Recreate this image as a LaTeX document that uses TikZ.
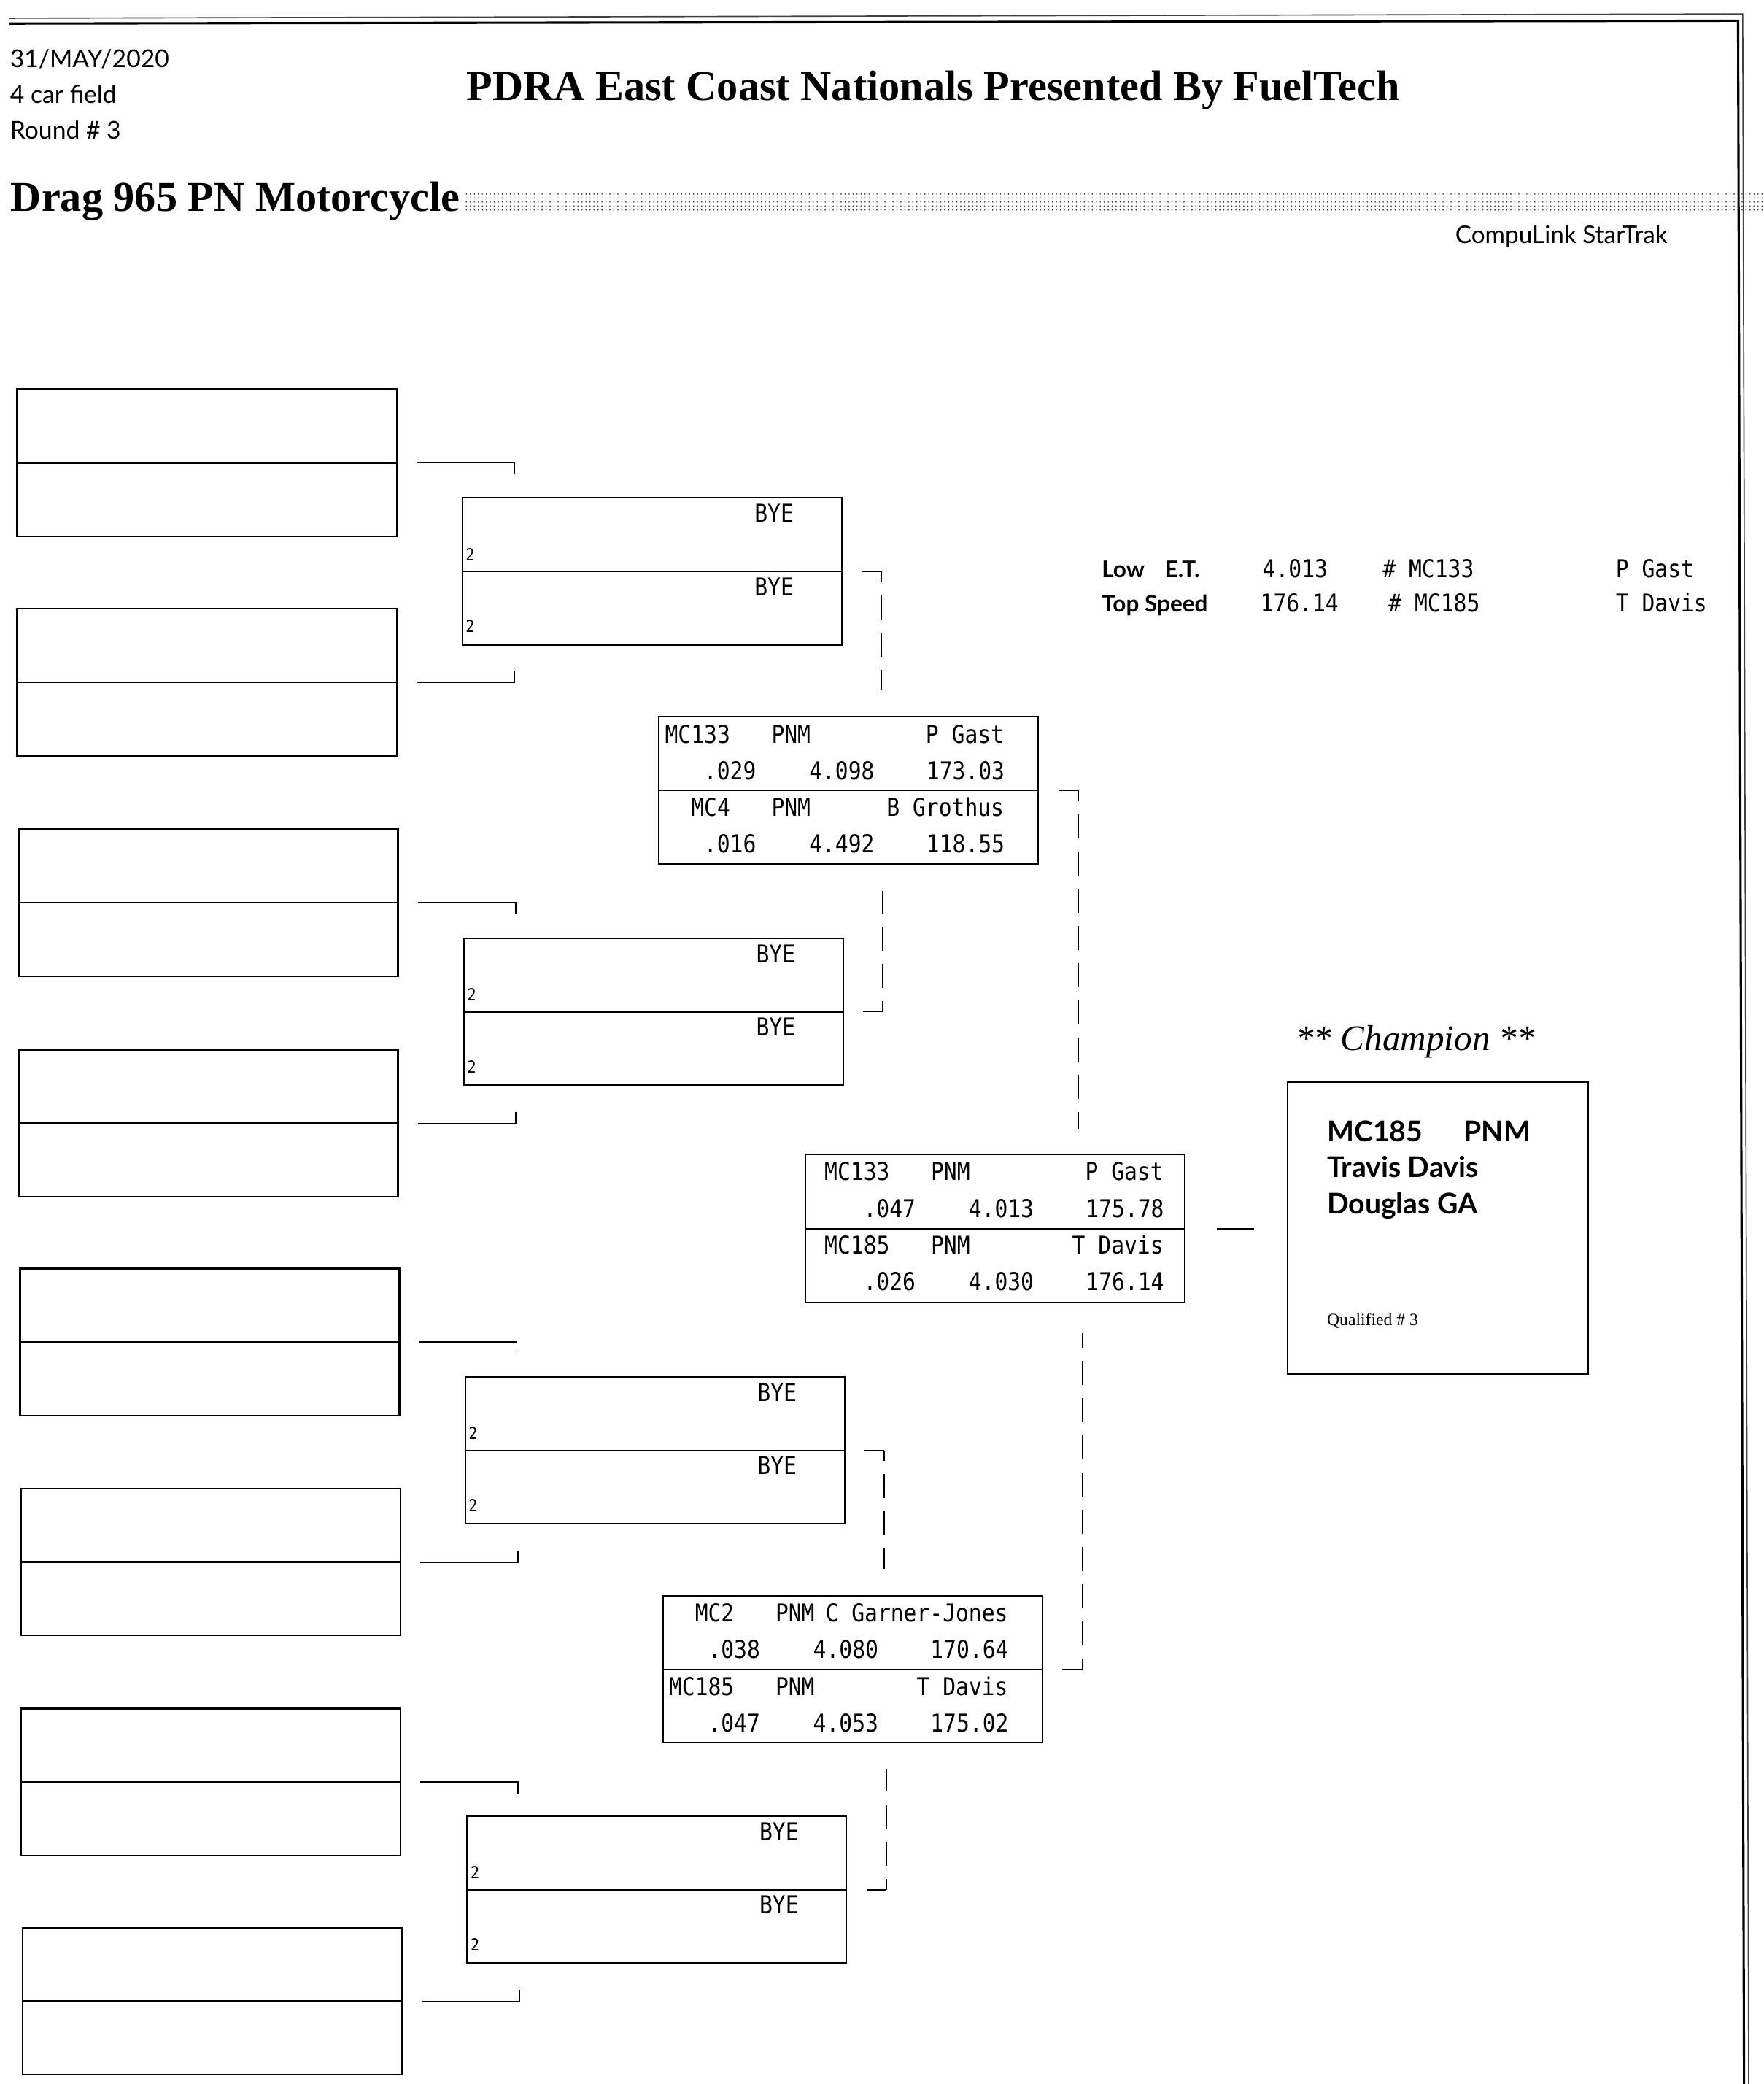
\documentclass[tikz,border=0pt]{standalone}
\usepackage{fontspec}
\setmainfont{Liberation Serif}
\newfontfamily\dfont[FakeStretch=0.88]{DejaVu Sans Mono}
\newfontfamily\hfont{Lato}
\usetikzlibrary{patterns}
\tikzset{
  r1box/.style={draw, line width=1.3pt, minimum width=285.5pt, minimum height=110.5pt, inner sep=0pt, outer sep=0pt, anchor=north west},
  rbox/.style={draw, line width=1.1pt, minimum width=285.5pt, minimum height=110.5pt, inner sep=0pt, outer sep=0pt, anchor=north west},
  midline/.style={line width=1.1pt},
  conn/.style={line width=1pt},
  dconn/.style={line width=1pt, dash pattern=on 18pt off 10pt, dash phase=10pt},
  dat/.style={font=\dfont\fontsize{18.5}{20}\selectfont, inner sep=0pt, outer sep=0pt},
  seed/.style={font=\dfont\fontsize{12.5}{13}\selectfont, inner sep=0pt, anchor=base west},
  hum/.style={font=\hfont\fontsize{18.5}{20}\selectfont, inner sep=0pt, anchor=base west},
  humb/.style={font=\hfont\bfseries\fontsize{17.3}{20}\selectfont, inner sep=0pt, anchor=base west},
  ser/.style={inner sep=0pt, anchor=base west},
}
\newcommand\racer[9]{%
  \pgfmathsetmacro\rowA{19.7+55*#3}%
  \pgfmathsetmacro\rowB{47.2+55*#3}%
  \node[dat,anchor=base east] (#1-car#3) at ([xshift={(53.5+#2)*1pt},yshift={-\rowA*1pt}]#1.north west) {#4};
  \node[dat,anchor=base west] (#1-cls#3) at ([xshift={(84.6+#2)*1pt},yshift={-\rowA*1pt}]#1.north west) {#5};
  \node[dat,anchor=base east] (#1-name#3) at ([xshift={(259.5+#2)*1pt},yshift={-\rowA*1pt}]#1.north west) {#6};
  \node[dat,anchor=base east] (#1-rt#3) at ([xshift={(73+#2)*1pt},yshift={-\rowB*1pt}]#1.north west) {#7};
  \node[dat,anchor=base east] (#1-et#3) at ([xshift={(162+#2)*1pt},yshift={-\rowB*1pt}]#1.north west) {#8};
  \node[dat,anchor=base east] (#1-sp#3) at ([xshift={(260+#2)*1pt},yshift={-\rowB*1pt}]#1.north west) {#9};
}
\newcommand\byebox[1]{%
  \node[dat,anchor=base east] (#1-bye1) at ([xshift=249.5pt,yshift=-18.4pt]#1.north west) {BYE};
  \node[dat,anchor=base east] (#1-bye2) at ([xshift=249.5pt,yshift=-73.4pt]#1.north west) {BYE};
  \node[seed] (#1-s1) at ([xshift=2.5pt,yshift=-47.2pt]#1.north west) {2};
  \node[seed] (#1-s2) at ([xshift=2.5pt,yshift=-101.2pt]#1.north west) {2};
}
\begin{document}
\begin{tikzpicture}[x=1pt,y=-1pt]
\fill[white] (0,0) rectangle (1327,1568);
\useasboundingbox (0,0) rectangle (1327,1568);

% page frame
\draw[line width=0.9pt, black!75] (7,13.7) -- (1311.5,10.5) -- (1316,1568);
\draw[line width=1.7pt] (7,17.7) -- (1308,15.6) -- (1312.5,1568);

% header
\node[hum] (date) at (7.4,51) {31/MAY/2020};
\node[hum] (field) at (7.4,77.5) {4 car field};
\node[hum] (round) at (7.4,104.5) {Round \# 3};
\node[ser, font=\bfseries\fontsize{32}{34}\selectfont] (title) at (351,75.4) {PDRA East Coast Nationals Presented By FuelTech};
\node[ser, font=\bfseries\fontsize{32}{34}\selectfont] (cls) at (8,159.2) {Drag 965 PN Motorcycle};
\fill[pattern=dots, pattern color=black!80] (350,145) rectangle (1327,160);
\node[hum, font=\hfont\fontsize{18.3}{20}\selectfont] (brand) at (1095,183) {CompuLink StarTrak};

% stats
\node[humb] (lowl) at (829,434.6) {Low};
\node[humb] (lowl2) at (876.5,434.6) {E.T.};
\node[dat, anchor=base west] (lowet) at (950.2,434.6) {4.013};
\node[dat, anchor=base west] (lowcar) at (1040.6,434.6) {\# MC133};
\node[dat, anchor=base west] (lowname) at (1216,434.6) {P Gast};
\node[humb] (topl) at (829,460.3) {Top Speed};
\node[dat, anchor=base west] (topsp) at (948.5,460.3) {176.14};
\node[dat, anchor=base west] (topcar) at (1045,460.3) {\# MC185};
\node[dat, anchor=base west] (topname) at (1216,460.3) {T Davis};

% round 1 (empty)
\node[r1box] (a1) at (13,293) {};
\node[r1box] (a2) at (13,458) {};
\node[r1box] (a3) at (14,624) {};
\node[r1box] (a4) at (14,790) {};
\node[r1box] (a5) at (15,954.5) {};
\node[r1box] (a6) at (16,1120) {};
\node[r1box] (a7) at (16,1285.5) {};
\node[r1box] (a8) at (17,1450.5) {};
\foreach \b in {a1,a2,a3,a4,a5,a6,a7,a8} {\draw[line width=1.3pt] (\b.west) -- (\b.east);}

% round 2 (byes)
\node[rbox] (b1) at (347.8,374.6) {};
\node[rbox] (b2) at (349,706) {};
\node[rbox] (b3) at (350,1036) {};
\node[rbox] (b4) at (351.5,1366.5) {};
\foreach \b in {b1,b2,b3,b4} {\draw[midline] (\b.west) -- (\b.east);}
\byebox{b1}
\byebox{b2}
\byebox{b3}
\byebox{b4}

% round 3
\node[rbox] (c1) at (496,539.3) {};
\node[rbox] (c2) at (499,1200.7) {};
\foreach \b in {c1,c2} {\draw[midline] (\b.west) -- (\b.east);}
\racer{c1}{0}{0}{MC133}{PNM}{P Gast}{.029}{4.098}{173.03}
\racer{c1}{0}{1}{MC4}{PNM}{B Grothus}{.016}{4.492}{118.55}
\racer{c2}{0}{0}{MC2}{PNM}{C Garner-Jones}{.038}{4.080}{170.64}
\racer{c2}{0}{1}{MC185}{PNM}{T Davis}{.047}{4.053}{175.02}

% final
\node[rbox, minimum height=111.5pt] (f) at (606,868.6) {};
\draw[midline] (f.west) -- (f.east);
\racer{f}{10}{0}{MC133}{PNM}{P Gast}{.047}{4.013}{175.78}
\racer{f}{10}{1}{MC185}{PNM}{T Davis}{.026}{4.030}{176.14}

% champion
\node[ser, font=\itshape\fontsize{27}{29}\selectfont] (champt) at (975,790.3) {** Champion **};
\node[draw, line width=1.1pt, minimum width=226pt, minimum height=220pt, inner sep=0pt, outer sep=0pt, anchor=north west] (champ) at (969,814) {};
\node[ser, font=\hfont\bfseries\fontsize{21.5}{24}\selectfont] (chcar) at (998.5,858.7) {MC185\hspace{31pt}PNM};
\node[ser, font=\hfont\bfseries\fontsize{21.5}{24}\selectfont] (chname) at (998.5,885.6) {Travis Davis};
\node[ser, font=\hfont\bfseries\fontsize{21.5}{24}\selectfont] (chcity) at (998.5,913.2) {Douglas GA};
\node[ser, font=\fontsize{13}{14}\selectfont] (chq) at (998.5,997.3) {Qualified \# 3};

% connectors round 1 -> round 2
\draw[conn] ([xshift=15pt]a1.east) -- ++(73.5,0) -- ++(0,8.5);
\draw[conn] ([xshift=15pt]a2.east) -- ++(73.5,0) -- ++(0,-8.5);
\draw[conn] ([xshift=15pt]a3.east) -- ++(73.5,0) -- ++(0,8.5);
\draw[conn] ([xshift=15pt]a4.east) -- ++(73.5,0) -- ++(0,-8.5);
\draw[conn] ([xshift=15pt]a5.east) -- ++(73.5,0) -- ++(0,8.5);
\draw[conn] ([xshift=15pt]a6.east) -- ++(73.5,0) -- ++(0,-8.5);
\draw[conn] ([xshift=15pt]a7.east) -- ++(73.5,0) -- ++(0,8.5);
\draw[conn] ([xshift=15pt]a8.east) -- ++(73.5,0) -- ++(0,-8.5);

% connectors round 2 -> round 3
\draw[conn] ([xshift=15pt]b1.east) -- ++(15,0) coordinate (k1);
\draw[dconn] (k1) -- ++(0,89);
\draw[conn] ([xshift=15pt]b2.east) -- ++(15,0) coordinate (k2);
\draw[dconn] (k2) -- ++(0,-91);
\draw[conn] ([xshift=15pt]b3.east) -- ++(15,0) coordinate (k3);
\draw[dconn] (k3) -- ++(0,89);
\draw[conn] ([xshift=15pt]b4.east) -- ++(15,0) coordinate (k4);
\draw[dconn] (k4) -- ++(0,-91);

% connectors round 3 -> final
\draw[conn] ([xshift=15pt]c1.east) -- ++(15,0) coordinate (m1);
\draw[dconn] (m1) -- ++(0,255);
\draw[conn] ([xshift=15pt]c2.east) -- ++(15,0) coordinate (m2);
\draw[dconn] (m2) -- ++(0,-253);

% final -> champion
\draw[conn] ([xshift=24pt]f.east) -- ([xshift=-25pt]champ.west |- f.east);
\end{tikzpicture}
\end{document}
